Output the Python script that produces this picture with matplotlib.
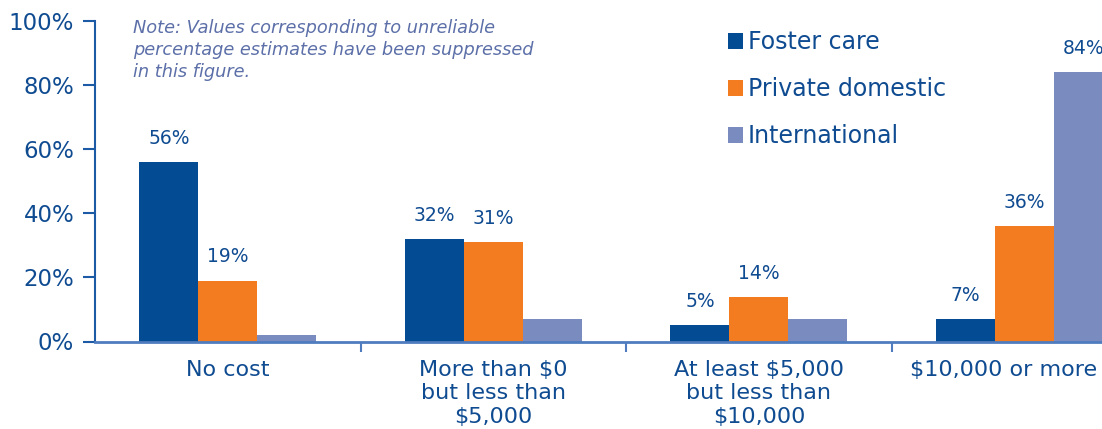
import numpy as np
import matplotlib
matplotlib.use('Agg')
import matplotlib.pyplot as plt
import matplotlib.ticker as mticker
import matplotlib.transforms as mtransforms
from matplotlib.patches import Patch

# Adoption cost by type of adoption (percent of adopted children)
categories = ['No cost', 'More than $0\nbut less than\n$5,000',
              'At least $5,000\nbut less than\n$10,000', '$10,000 or more']
series = ['Foster care', 'Private domestic', 'International']
foster = [56, 32, 5, 7]
private = [19, 31, 14, 36]
international = [2, 7, 7, 84]
# suppressed (unreliable) estimates keep their bar but get no label
foster_shown = [True, True, True, True]
private_shown = [True, True, True, True]
international_shown = [False, False, False, True]

colors = ['#034b92', '#f47c20', '#7a8bbf']
txt_col = '#0f4b91'
note_col = '#5c6fa8'

plt.rcParams['font.family'] = ['DejaVu Sans']

fig = plt.figure(figsize=(11.02, 4.29), dpi=100)
ax = fig.add_axes([95/1102, 87.5/429, 1 - 95/1102, 321/429])

x = np.arange(len(categories))
w = 0.222
for k, (vals, shown) in enumerate(zip([foster, private, international],
                                      [foster_shown, private_shown, international_shown])):
    xs = x + (k - 1) * w
    ax.bar(xs, vals, width=w, color=colors[k], linewidth=0, zorder=2)
    for xi, v, s in zip(xs, vals, shown):
        if s:
            ax.annotate(f'{v}%', (xi, v), xytext=(0, 13), textcoords='offset points',
                        ha='center', va='baseline', fontsize=13.5, color=txt_col)

ax.set_xlim(-0.5, 3.292)
ax.set_ylim(0, 100)

ax.yaxis.set_major_locator(mticker.MultipleLocator(20))
ax.yaxis.set_major_formatter(mticker.FuncFormatter(lambda v, _: f'{int(v)}%'))
ax.tick_params(axis='y', length=9, width=1.5, color='#1c5aa6', pad=6,
               labelsize=16.5, labelcolor=txt_col)

ax.set_xticks(x, labels=categories)
ax.set_xticks([0.5, 1.5, 2.5], minor=True)
ax.tick_params(axis='x', which='major', length=0, pad=13, labelsize=16,
               labelcolor=txt_col)
ax.tick_params(axis='x', which='minor', length=7, width=1.5, color='#4f7cbf')
for lab in ax.get_xticklabels():
    lab.set_linespacing(1.22)
# last label would run off the right edge; nudge it left
last = ax.get_xticklabels()[-1]
last.set_transform(last.get_transform() +
                   mtransforms.ScaledTranslation(-21/100, 0, fig.dpi_scale_trans))

for s in ['top', 'right']:
    ax.spines[s].set_visible(False)
ax.spines['left'].set_color('#1c5aa6')
ax.spines['left'].set_linewidth(1.5)
ax.spines['bottom'].set_color('#4f7cbf')
ax.spines['bottom'].set_linewidth(2)
ax.spines['bottom'].set_zorder(3)

handles = [Patch(facecolor=c, edgecolor='none') for c in colors]
fig.legend(handles, series, loc='upper left',
           bbox_to_anchor=(728/1102, 1 - 30/429), frameon=False,
           fontsize=17, handlelength=0.64, handleheight=0.64,
           handletextpad=0.2, labelspacing=0.98, borderpad=0, borderaxespad=0,
           labelcolor=txt_col)

fig.text(133/1102, 1 - 19/429,
         'Note: Values corresponding to unreliable\n'
         'percentage estimates have been suppressed\n'
         'in this figure.',
         ha='left', va='top', style='italic', fontsize=12.8, color=note_col,
         linespacing=1.3)

fig.savefig('out.png', dpi=100)
